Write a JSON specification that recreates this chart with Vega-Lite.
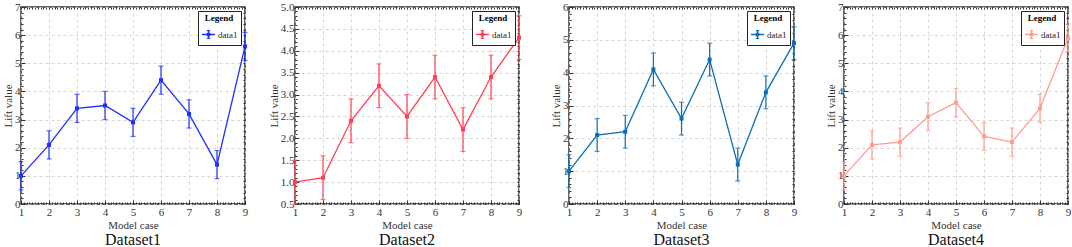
{
  "$schema": "https://vega.github.io/schema/vega-lite/v6.json",
  "padding": {"left": 1, "top": 0, "right": 0, "bottom": 0},
  "background": "white",
  "datasets": {
    "d1": [
      {"case": 1, "value": 1.0, "lo": 0.5, "hi": 1.5},
      {"case": 2, "value": 2.1, "lo": 1.6, "hi": 2.6},
      {"case": 3, "value": 3.4, "lo": 2.9, "hi": 3.9},
      {"case": 4, "value": 3.5, "lo": 3.0, "hi": 4.0},
      {"case": 5, "value": 2.9, "lo": 2.4, "hi": 3.4},
      {"case": 6, "value": 4.4, "lo": 3.9, "hi": 4.9},
      {"case": 7, "value": 3.2, "lo": 2.7, "hi": 3.7},
      {"case": 8, "value": 1.4, "lo": 0.9, "hi": 1.9},
      {"case": 9, "value": 5.6, "lo": 5.1, "hi": 6.1}
    ],
    "d2": [
      {"case": 1, "value": 1.0, "lo": 0.5, "hi": 1.5},
      {"case": 2, "value": 1.1, "lo": 0.6, "hi": 1.6},
      {"case": 3, "value": 2.4, "lo": 1.9, "hi": 2.9},
      {"case": 4, "value": 3.2, "lo": 2.7, "hi": 3.7},
      {"case": 5, "value": 2.5, "lo": 2.0, "hi": 3.0},
      {"case": 6, "value": 3.4, "lo": 2.9, "hi": 3.9},
      {"case": 7, "value": 2.2, "lo": 1.7, "hi": 2.7},
      {"case": 8, "value": 3.4, "lo": 2.9, "hi": 3.9},
      {"case": 9, "value": 4.3, "lo": 3.8, "hi": 4.8}
    ],
    "d3": [
      {"case": 1, "value": 1.0, "lo": 0.5, "hi": 1.5},
      {"case": 2, "value": 2.1, "lo": 1.6, "hi": 2.6},
      {"case": 3, "value": 2.2, "lo": 1.7, "hi": 2.7},
      {"case": 4, "value": 4.1, "lo": 3.6, "hi": 4.6},
      {"case": 5, "value": 2.6, "lo": 2.1, "hi": 3.1},
      {"case": 6, "value": 4.4, "lo": 3.9, "hi": 4.9},
      {"case": 7, "value": 1.2, "lo": 0.7, "hi": 1.7},
      {"case": 8, "value": 3.4, "lo": 2.9, "hi": 3.9},
      {"case": 9, "value": 4.9, "lo": 4.4, "hi": 5.4}
    ],
    "d4": [
      {"case": 1, "value": 1.0, "lo": 0.5, "hi": 1.5},
      {"case": 2, "value": 2.1, "lo": 1.6, "hi": 2.6},
      {"case": 3, "value": 2.2, "lo": 1.7, "hi": 2.7},
      {"case": 4, "value": 3.1, "lo": 2.6, "hi": 3.6},
      {"case": 5, "value": 3.6, "lo": 3.1, "hi": 4.1},
      {"case": 6, "value": 2.4, "lo": 1.9, "hi": 2.9},
      {"case": 7, "value": 2.2, "lo": 1.7, "hi": 2.7},
      {"case": 8, "value": 3.4, "lo": 2.9, "hi": 3.9},
      {"case": 9, "value": 5.9, "lo": 5.4, "hi": 6.4}
    ]
  },
  "hconcat": [
    {
      "width": 224, "height": 197,
      "title": {"text": "Dataset1"},
      "data": {"name": "d1"},
      "resolve": {"axis": {"x": "independent", "y": "independent"}},
      "layer": [
        {
          "mark": {"type": "errorbar", "ticks": {"size": 5}, "color": "#1f2fff", "thickness": 1.2},
          "encoding": {
            "x": {"field": "case", "type": "quantitative", "scale": {"domain": [1, 9], "nice": false}, "axis": {"values": [1, 2, 3, 4, 5, 6, 7, 8, 9], "title": "Model case"}},
            "y": {"field": "lo", "type": "quantitative", "scale": {"domain": [0, 7], "nice": false}, "axis": {"values": [0, 1, 2, 3, 4, 5, 6, 7], "title": "Lift value"}},
            "y2": {"field": "hi"}
          }
        },
        {
          "mark": {"type": "line", "strokeWidth": 1.3, "point": {"shape": "square", "size": 16, "filled": true}},
          "encoding": {
            "x": {"field": "case", "type": "quantitative", "axis": null},
            "y": {"field": "value", "type": "quantitative", "axis": null},
            "color": {"datum": "data1", "type": "nominal", "scale": {"range": ["#1f2fff"]}, "legend": {"title": "Legend"}}
          }
        },
        {
          "mark": {"type": "point", "opacity": 0},
          "encoding": {
            "x": {"field": "case", "type": "quantitative", "axis": {"orient": "bottom", "values": [1,1.1,1.2,1.3,1.4,1.5,1.6,1.7,1.8,1.9,2,2.1,2.2,2.3,2.4,2.5,2.6,2.7,2.8,2.9,3,3.1,3.2,3.3,3.4,3.5,3.6,3.7,3.8,3.9,4,4.1,4.2,4.3,4.4,4.5,4.6,4.7,4.8,4.9,5,5.1,5.2,5.3,5.4,5.5,5.6,5.7,5.8,5.9,6,6.1,6.2,6.3,6.4,6.5,6.6,6.7,6.8,6.9,7,7.1,7.2,7.3,7.4,7.5,7.6,7.7,7.8,7.9,8,8.1,8.2,8.3,8.4,8.5,8.6,8.7,8.8,8.9,9], "labels": false, "grid": false, "title": null, "tickSize": -2}},
            "y": {"field": "value", "type": "quantitative", "axis": {"orient": "left", "values": [0,0.2,0.4,0.6,0.8,1,1.2,1.4,1.6,1.8,2,2.2,2.4,2.6,2.8,3,3.2,3.4,3.6,3.8,4,4.2,4.4,4.6,4.8,5,5.2,5.4,5.6,5.8,6,6.2,6.4,6.6,6.8,7], "labels": false, "grid": false, "title": null, "tickSize": -2}}
          }
        },
        {
          "mark": {"type": "point", "opacity": 0},
          "encoding": {
            "x": {"field": "case", "type": "quantitative", "axis": {"orient": "top", "values": [1,1.1,1.2,1.3,1.4,1.5,1.6,1.7,1.8,1.9,2,2.1,2.2,2.3,2.4,2.5,2.6,2.7,2.8,2.9,3,3.1,3.2,3.3,3.4,3.5,3.6,3.7,3.8,3.9,4,4.1,4.2,4.3,4.4,4.5,4.6,4.7,4.8,4.9,5,5.1,5.2,5.3,5.4,5.5,5.6,5.7,5.8,5.9,6,6.1,6.2,6.3,6.4,6.5,6.6,6.7,6.8,6.9,7,7.1,7.2,7.3,7.4,7.5,7.6,7.7,7.8,7.9,8,8.1,8.2,8.3,8.4,8.5,8.6,8.7,8.8,8.9,9], "labels": false, "grid": false, "title": null, "tickSize": -2}},
            "y": {"field": "value", "type": "quantitative", "axis": {"orient": "right", "values": [0,0.2,0.4,0.6,0.8,1,1.2,1.4,1.6,1.8,2,2.2,2.4,2.6,2.8,3,3.2,3.4,3.6,3.8,4,4.2,4.4,4.6,4.8,5,5.2,5.4,5.6,5.8,6,6.2,6.4,6.6,6.8,7], "labels": false, "grid": false, "title": null, "tickSize": -2}}
          }
        }
      ]
    },
    {
      "width": 224, "height": 197,
      "title": {"text": "Dataset2"},
      "data": {"name": "d2"},
      "resolve": {"axis": {"x": "independent", "y": "independent"}},
      "layer": [
        {
          "mark": {"type": "errorbar", "ticks": {"size": 5}, "color": "#ff4052", "thickness": 1.2},
          "encoding": {
            "x": {"field": "case", "type": "quantitative", "scale": {"domain": [1, 9], "nice": false}, "axis": {"values": [1, 2, 3, 4, 5, 6, 7, 8, 9], "title": "Model case"}},
            "y": {"field": "lo", "type": "quantitative", "scale": {"domain": [0.5, 5], "nice": false}, "axis": {"values": [0.5, 1, 1.5, 2, 2.5, 3, 3.5, 4, 4.5, 5], "title": "Lift value"}},
            "y2": {"field": "hi"}
          }
        },
        {
          "mark": {"type": "line", "strokeWidth": 1.3, "point": {"shape": "square", "size": 16, "filled": true}},
          "encoding": {
            "x": {"field": "case", "type": "quantitative", "axis": null},
            "y": {"field": "value", "type": "quantitative", "axis": null},
            "color": {"datum": "data1", "type": "nominal", "scale": {"range": ["#ff4052"]}, "legend": {"title": "Legend"}}
          }
        },
        {
          "mark": {"type": "point", "opacity": 0},
          "encoding": {
            "x": {"field": "case", "type": "quantitative", "axis": {"orient": "bottom", "values": [1,1.1,1.2,1.3,1.4,1.5,1.6,1.7,1.8,1.9,2,2.1,2.2,2.3,2.4,2.5,2.6,2.7,2.8,2.9,3,3.1,3.2,3.3,3.4,3.5,3.6,3.7,3.8,3.9,4,4.1,4.2,4.3,4.4,4.5,4.6,4.7,4.8,4.9,5,5.1,5.2,5.3,5.4,5.5,5.6,5.7,5.8,5.9,6,6.1,6.2,6.3,6.4,6.5,6.6,6.7,6.8,6.9,7,7.1,7.2,7.3,7.4,7.5,7.6,7.7,7.8,7.9,8,8.1,8.2,8.3,8.4,8.5,8.6,8.7,8.8,8.9,9], "labels": false, "grid": false, "title": null, "tickSize": -2}},
            "y": {"field": "value", "type": "quantitative", "axis": {"orient": "left", "values": [0.5,0.6,0.7,0.8,0.9,1,1.1,1.2,1.3,1.4,1.5,1.6,1.7,1.8,1.9,2,2.1,2.2,2.3,2.4,2.5,2.6,2.7,2.8,2.9,3,3.1,3.2,3.3,3.4,3.5,3.6,3.7,3.8,3.9,4,4.1,4.2,4.3,4.4,4.5,4.6,4.7,4.8,4.9,5], "labels": false, "grid": false, "title": null, "tickSize": -2}}
          }
        },
        {
          "mark": {"type": "point", "opacity": 0},
          "encoding": {
            "x": {"field": "case", "type": "quantitative", "axis": {"orient": "top", "values": [1,1.1,1.2,1.3,1.4,1.5,1.6,1.7,1.8,1.9,2,2.1,2.2,2.3,2.4,2.5,2.6,2.7,2.8,2.9,3,3.1,3.2,3.3,3.4,3.5,3.6,3.7,3.8,3.9,4,4.1,4.2,4.3,4.4,4.5,4.6,4.7,4.8,4.9,5,5.1,5.2,5.3,5.4,5.5,5.6,5.7,5.8,5.9,6,6.1,6.2,6.3,6.4,6.5,6.6,6.7,6.8,6.9,7,7.1,7.2,7.3,7.4,7.5,7.6,7.7,7.8,7.9,8,8.1,8.2,8.3,8.4,8.5,8.6,8.7,8.8,8.9,9], "labels": false, "grid": false, "title": null, "tickSize": -2}},
            "y": {"field": "value", "type": "quantitative", "axis": {"orient": "right", "values": [0.5,0.6,0.7,0.8,0.9,1,1.1,1.2,1.3,1.4,1.5,1.6,1.7,1.8,1.9,2,2.1,2.2,2.3,2.4,2.5,2.6,2.7,2.8,2.9,3,3.1,3.2,3.3,3.4,3.5,3.6,3.7,3.8,3.9,4,4.1,4.2,4.3,4.4,4.5,4.6,4.7,4.8,4.9,5], "labels": false, "grid": false, "title": null, "tickSize": -2}}
          }
        }
      ]
    },
    {
      "width": 225, "height": 197,
      "title": {"text": "Dataset3"},
      "data": {"name": "d3"},
      "resolve": {"axis": {"x": "independent", "y": "independent"}},
      "layer": [
        {
          "mark": {"type": "errorbar", "ticks": {"size": 5}, "color": "#0a6fb8", "thickness": 1.2},
          "encoding": {
            "x": {"field": "case", "type": "quantitative", "scale": {"domain": [1, 9], "nice": false}, "axis": {"values": [1, 2, 3, 4, 5, 6, 7, 8, 9], "title": "Model case"}},
            "y": {"field": "lo", "type": "quantitative", "scale": {"domain": [0, 6], "nice": false}, "axis": {"values": [0, 1, 2, 3, 4, 5, 6], "title": "Lift value"}},
            "y2": {"field": "hi"}
          }
        },
        {
          "mark": {"type": "line", "strokeWidth": 1.3, "point": {"shape": "square", "size": 16, "filled": true}},
          "encoding": {
            "x": {"field": "case", "type": "quantitative", "axis": null},
            "y": {"field": "value", "type": "quantitative", "axis": null},
            "color": {"datum": "data1", "type": "nominal", "scale": {"range": ["#0a6fb8"]}, "legend": {"title": "Legend"}}
          }
        },
        {
          "mark": {"type": "point", "opacity": 0},
          "encoding": {
            "x": {"field": "case", "type": "quantitative", "axis": {"orient": "bottom", "values": [1,1.1,1.2,1.3,1.4,1.5,1.6,1.7,1.8,1.9,2,2.1,2.2,2.3,2.4,2.5,2.6,2.7,2.8,2.9,3,3.1,3.2,3.3,3.4,3.5,3.6,3.7,3.8,3.9,4,4.1,4.2,4.3,4.4,4.5,4.6,4.7,4.8,4.9,5,5.1,5.2,5.3,5.4,5.5,5.6,5.7,5.8,5.9,6,6.1,6.2,6.3,6.4,6.5,6.6,6.7,6.8,6.9,7,7.1,7.2,7.3,7.4,7.5,7.6,7.7,7.8,7.9,8,8.1,8.2,8.3,8.4,8.5,8.6,8.7,8.8,8.9,9], "labels": false, "grid": false, "title": null, "tickSize": -2}},
            "y": {"field": "value", "type": "quantitative", "axis": {"orient": "left", "values": [0,0.2,0.4,0.6,0.8,1,1.2,1.4,1.6,1.8,2,2.2,2.4,2.6,2.8,3,3.2,3.4,3.6,3.8,4,4.2,4.4,4.6,4.8,5,5.2,5.4,5.6,5.8,6], "labels": false, "grid": false, "title": null, "tickSize": -2}}
          }
        },
        {
          "mark": {"type": "point", "opacity": 0},
          "encoding": {
            "x": {"field": "case", "type": "quantitative", "axis": {"orient": "top", "values": [1,1.1,1.2,1.3,1.4,1.5,1.6,1.7,1.8,1.9,2,2.1,2.2,2.3,2.4,2.5,2.6,2.7,2.8,2.9,3,3.1,3.2,3.3,3.4,3.5,3.6,3.7,3.8,3.9,4,4.1,4.2,4.3,4.4,4.5,4.6,4.7,4.8,4.9,5,5.1,5.2,5.3,5.4,5.5,5.6,5.7,5.8,5.9,6,6.1,6.2,6.3,6.4,6.5,6.6,6.7,6.8,6.9,7,7.1,7.2,7.3,7.4,7.5,7.6,7.7,7.8,7.9,8,8.1,8.2,8.3,8.4,8.5,8.6,8.7,8.8,8.9,9], "labels": false, "grid": false, "title": null, "tickSize": -2}},
            "y": {"field": "value", "type": "quantitative", "axis": {"orient": "right", "values": [0,0.2,0.4,0.6,0.8,1,1.2,1.4,1.6,1.8,2,2.2,2.4,2.6,2.8,3,3.2,3.4,3.6,3.8,4,4.2,4.4,4.6,4.8,5,5.2,5.4,5.6,5.8,6], "labels": false, "grid": false, "title": null, "tickSize": -2}}
          }
        }
      ]
    },
    {
      "width": 224, "height": 197,
      "title": {"text": "Dataset4"},
      "data": {"name": "d4"},
      "resolve": {"axis": {"x": "independent", "y": "independent"}},
      "layer": [
        {
          "mark": {"type": "errorbar", "ticks": {"size": 5}, "color": "#ff9e90", "thickness": 1.2},
          "encoding": {
            "x": {"field": "case", "type": "quantitative", "scale": {"domain": [1, 9], "nice": false}, "axis": {"values": [1, 2, 3, 4, 5, 6, 7, 8, 9], "title": "Model case"}},
            "y": {"field": "lo", "type": "quantitative", "scale": {"domain": [0, 7], "nice": false}, "axis": {"values": [0, 1, 2, 3, 4, 5, 6, 7], "title": "Lift value"}},
            "y2": {"field": "hi"}
          }
        },
        {
          "mark": {"type": "line", "strokeWidth": 1.3, "point": {"shape": "square", "size": 16, "filled": true}},
          "encoding": {
            "x": {"field": "case", "type": "quantitative", "axis": null},
            "y": {"field": "value", "type": "quantitative", "axis": null},
            "color": {"datum": "data1", "type": "nominal", "scale": {"range": ["#ff9e90"]}, "legend": {"title": "Legend"}}
          }
        },
        {
          "mark": {"type": "point", "opacity": 0},
          "encoding": {
            "x": {"field": "case", "type": "quantitative", "axis": {"orient": "bottom", "values": [1,1.1,1.2,1.3,1.4,1.5,1.6,1.7,1.8,1.9,2,2.1,2.2,2.3,2.4,2.5,2.6,2.7,2.8,2.9,3,3.1,3.2,3.3,3.4,3.5,3.6,3.7,3.8,3.9,4,4.1,4.2,4.3,4.4,4.5,4.6,4.7,4.8,4.9,5,5.1,5.2,5.3,5.4,5.5,5.6,5.7,5.8,5.9,6,6.1,6.2,6.3,6.4,6.5,6.6,6.7,6.8,6.9,7,7.1,7.2,7.3,7.4,7.5,7.6,7.7,7.8,7.9,8,8.1,8.2,8.3,8.4,8.5,8.6,8.7,8.8,8.9,9], "labels": false, "grid": false, "title": null, "tickSize": -2}},
            "y": {"field": "value", "type": "quantitative", "axis": {"orient": "left", "values": [0,0.2,0.4,0.6,0.8,1,1.2,1.4,1.6,1.8,2,2.2,2.4,2.6,2.8,3,3.2,3.4,3.6,3.8,4,4.2,4.4,4.6,4.8,5,5.2,5.4,5.6,5.8,6,6.2,6.4,6.6,6.8,7], "labels": false, "grid": false, "title": null, "tickSize": -2}}
          }
        },
        {
          "mark": {"type": "point", "opacity": 0},
          "encoding": {
            "x": {"field": "case", "type": "quantitative", "axis": {"orient": "top", "values": [1,1.1,1.2,1.3,1.4,1.5,1.6,1.7,1.8,1.9,2,2.1,2.2,2.3,2.4,2.5,2.6,2.7,2.8,2.9,3,3.1,3.2,3.3,3.4,3.5,3.6,3.7,3.8,3.9,4,4.1,4.2,4.3,4.4,4.5,4.6,4.7,4.8,4.9,5,5.1,5.2,5.3,5.4,5.5,5.6,5.7,5.8,5.9,6,6.1,6.2,6.3,6.4,6.5,6.6,6.7,6.8,6.9,7,7.1,7.2,7.3,7.4,7.5,7.6,7.7,7.8,7.9,8,8.1,8.2,8.3,8.4,8.5,8.6,8.7,8.8,8.9,9], "labels": false, "grid": false, "title": null, "tickSize": -2}},
            "y": {"field": "value", "type": "quantitative", "axis": {"orient": "right", "values": [0,0.2,0.4,0.6,0.8,1,1.2,1.4,1.6,1.8,2,2.2,2.4,2.6,2.8,3,3.2,3.4,3.6,3.8,4,4.2,4.4,4.6,4.8,5,5.2,5.4,5.6,5.8,6,6.2,6.4,6.6,6.8,7], "labels": false, "grid": false, "title": null, "tickSize": -2}}
          }
        }
      ]
    }
  ],
  "spacing": 50,
  "bounds": "flush",
  "resolve": {"scale": {"color": "independent"}, "legend": {"color": "independent"}},
  "config": {
    "font": "Liberation Serif",
    "view": {"stroke": "#333333", "strokeWidth": 1.5},
    "axis": {
      "grid": true, "gridDash": [3, 3], "gridColor": "#d6d6d6", "gridWidth": 1,
      "domain": false,
      "labelFont": "Liberation Serif", "labelFontSize": 11, "labelColor": "#333333",
      "labelOverlap": false, "labelFlush": false,
      "titleFont": "Liberation Serif", "titleFontSize": 11, "titleFontWeight": "normal", "titleColor": "#333333",
      "ticks": true, "tickSize": -4, "tickColor": "#333333", "tickWidth": 1
    },
    "axisX": {"labelPadding": 6, "titlePadding": 2},
    "axisY": {"labelPadding": 5, "titlePadding": 1},
    "title": {"font": "Liberation Serif", "fontSize": 16, "fontWeight": "normal", "color": "#111111", "orient": "bottom", "offset": 2},
    "legend": {
      "orient": "top-right", "offset": 4,
      "strokeColor": "#222222", "fillColor": "white", "padding": 3,
      "titleFont": "Liberation Serif", "titleFontSize": 9, "titleFontWeight": "bold", "titleColor": "#000000",
      "titleAnchor": "middle", "titlePadding": 4,
      "labelFont": "Liberation Serif", "labelFontSize": 9, "labelColor": "#222222",
      "symbolType": "M-1,0H1M0,-0.6V0.6M-0.25,-0.6H0.25M-0.25,0.6H0.25M-0.18,-0.18H0.18V0.18H-0.18Z",
      "symbolSize": 170, "symbolStrokeWidth": 1.3, "symbolFillColor": "transparent",
      "labelOffset": 2
    }
  }
}
